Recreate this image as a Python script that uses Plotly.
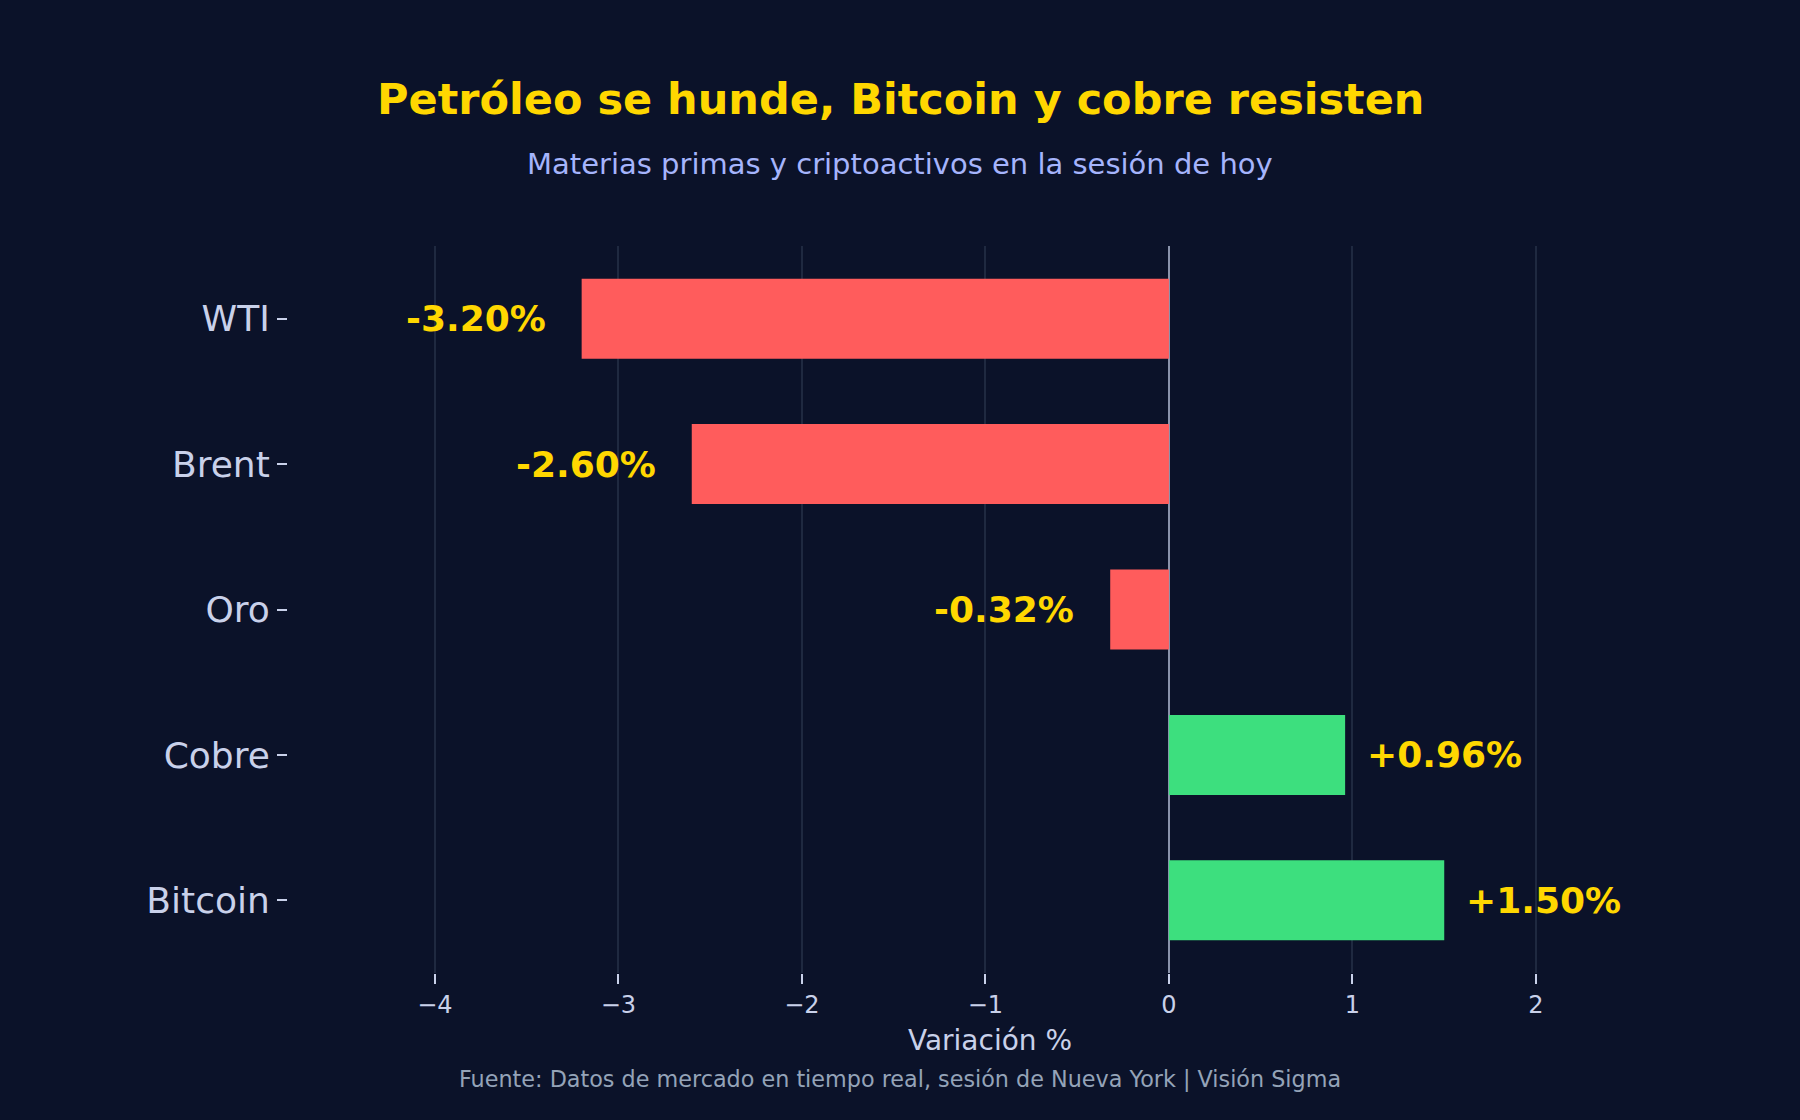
import plotly.graph_objects as go

# datos de la sesión
activos = ['WTI', 'Brent', 'Oro', 'Cobre', 'Bitcoin']
variacion = [-3.20, -2.60, -0.32, 0.96, 1.50]
ticks_x = [-4, -3, -2, -1, 0, 1, 2]
tick_text_x = ['\u22124', '\u22123', '\u22122', '\u22121', '0', '1', '2']

BG = '#0b1229'
RED = '#ff5c5c'
GREEN = '#3ddf7e'
YELLOW = '#ffd700'
LIGHT = '#c9d1ea'
FONT = 'DejaVu Sans'

W, H_FIG = 1800, 1120
M = dict(l=288, r=108, t=246, b=147)

colors = [RED if v < 0 else GREEN for v in variacion]


def ypaper(py):
    return (H_FIG - M['b'] - py) / (H_FIG - M['t'] - M['b'])


def xpaper(px_):
    return (px_ - M['l']) / (W - M['l'] - M['r'])


fig = go.Figure()
fig.add_trace(go.Bar(
    x=variacion, y=activos, orientation='h', width=0.55,
    marker=dict(color=colors, line=dict(width=0)),
    hoverinfo='skip',
))

# etiquetas de valor junto a cada barra
for name, v in zip(activos, variacion):
    fig.add_annotation(
        x=v, y=name, xref='x', yref='y',
        text=f'{v:+.2f}%',
        showarrow=False,
        xanchor='right' if v < 0 else 'left',
        xshift=-34 if v < 0 else 20,
        font=dict(family=FONT, size=36, color=YELLOW, weight='bold'),
    )

# titulo, subtitulo y fuente en pixeles de la figura
fig.add_annotation(
    text='Petróleo se hunde, Bitcoin y cobre resisten',
    x=xpaper(900), y=ypaper(99), xref='paper', yref='paper',
    showarrow=False, xanchor='center', yanchor='middle',
    font=dict(family=FONT, size=43, color=YELLOW, weight='bold'),
)
fig.add_annotation(
    text='Materias primas y criptoactivos en la sesión de hoy',
    x=xpaper(900), y=ypaper(164), xref='paper', yref='paper',
    showarrow=False, xanchor='center', yanchor='middle',
    font=dict(family=FONT, size=29, color='#a5b4fc'),
)
fig.add_annotation(
    text='Fuente: Datos de mercado en tiempo real, sesión de Nueva York | Visión Sigma',
    x=xpaper(900), y=ypaper(1079), xref='paper', yref='paper',
    showarrow=False, xanchor='center', yanchor='middle',
    font=dict(family=FONT, size=22.3, color='#94a3b8'),
)

fig.update_layout(
    width=W, height=H_FIG,
    paper_bgcolor=BG, plot_bgcolor=BG,
    margin=M,
    showlegend=False,
    font=dict(family=FONT, color=LIGHT),
)

fig.update_xaxes(
    range=[-4.8, 2.85],
    tickvals=ticks_x, ticktext=tick_text_x,
    tickfont=dict(family=FONT, size=24, color=LIGHT),
    ticks='outside', ticklen=10, tickwidth=1.5, tickcolor=LIGHT,
    showgrid=True, gridcolor='#1f2940', gridwidth=1.5,
    zeroline=True, zerolinecolor='#8a93ab', zerolinewidth=2,
    showline=False,
    title=dict(text='Variación %', font=dict(family=FONT, size=28, color=LIGHT), standoff=12),
)
fig.update_yaxes(
    autorange=False, range=[4.5, -0.5],
    categoryorder='array', categoryarray=activos,
    tickfont=dict(family=FONT, size=36, color=LIGHT),
    ticks='outside', ticklen=10, tickwidth=1.5, tickcolor=LIGHT,
    showgrid=False, zeroline=False, showline=False,
)

fig.write_html('out.html', config={'displayModeBar': False},
               post_script="document.body.style.margin='0';")
